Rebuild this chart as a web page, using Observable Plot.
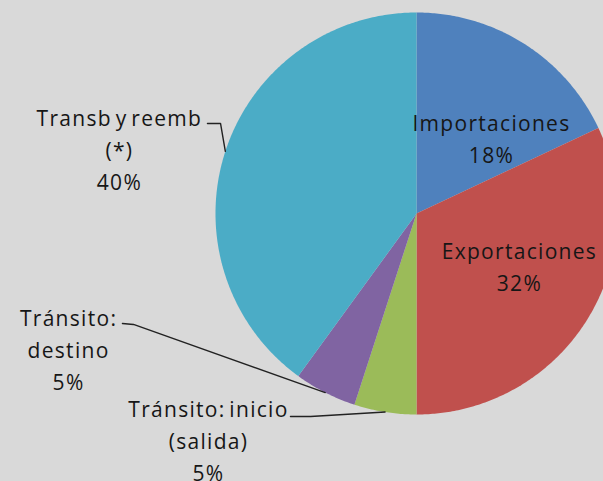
<!DOCTYPE html>
<html>
<head>
<meta charset="utf-8">
<script src="https://cdn.jsdelivr.net/npm/d3@7"></script>
<script src="https://cdn.jsdelivr.net/npm/@observablehq/plot@0.6"></script>
<style>
  html, body { margin: 0; padding: 0; background: #d9d9d9; }
  #chart { width: 603px; height: 481px; overflow: hidden; }
</style>
</head>
<body>
<div id="chart"></div>
<script>
// ---- data ----
const categories = ["Importaciones", "Exportaciones", "Tránsito: inicio (salida)", "Tránsito: destino", "Transb y reemb (*)"];
const values = [18, 32, 5, 5, 40];
const labelTexts = ["Importaciones", "Exportaciones", "Tránsito: inicio\n(salida)", "Tránsito:\ndestino", "Transb y reemb\n(*)"];
const colors = ["#4F81BD", "#C0504D", "#9BBB59", "#8064A2", "#4BACC6"];

// ---- layout (unit-circle coordinates, y up) ----
const W = 603, H = 481, CX = 416, CY = 213, R = 201;
const labelAt = [[0.373, 0.383], [0.512, -0.254], [-1.035, -1.119], [-1.731, -0.667], [-1.478, 0.328]];
// leader: [start, elbow] ; end is on the slice edge at mid-angle
const leaders = [null, null, [[-0.627, -1.010], [-0.527, -1.010]], [[-1.463, -0.547], [-1.408, -0.552]], [[-1.040, 0.448], [-0.975, 0.448]]];

const total = d3.sum(values);
let acc = 0;
const slices = values.map((v, i) => {
  const a0 = acc / total * 2 * Math.PI;
  acc += v;
  const a1 = acc / total * 2 * Math.PI;
  return {cat: categories[i], v, a0, a1, mid: (a0 + a1) / 2, i};
});

// slice outlines (geometry sampling of each arc)
const poly = [];
for (const s of slices) {
  poly.push({cat: s.cat, x: 0, y: 0});
  const n = Math.max(2, Math.ceil((s.a1 - s.a0) / 0.01));
  for (let k = 0; k <= n; k++) {
    const a = s.a0 + (s.a1 - s.a0) * k / n;
    poly.push({cat: s.cat, x: Math.sin(a), y: Math.cos(a)});
  }
  poly.push({cat: s.cat, x: 0, y: 0});
}

const labels = slices.map(s => ({
  cat: s.cat,
  text: labelTexts[s.i] + "\n" + Math.round(s.v / total * 100) + "%",
  x: labelAt[s.i][0],
  y: labelAt[s.i][1]
}));

const leaderPts = [];
slices.forEach(s => {
  const L = leaders[s.i];
  if (!L) return;
  leaderPts.push({cat: s.cat, x: L[0][0], y: L[0][1]});
  leaderPts.push({cat: s.cat, x: L[1][0], y: L[1][1]});
  leaderPts.push({cat: s.cat, x: Math.sin(s.mid), y: Math.cos(s.mid)});
});

const chart = Plot.plot({
  width: W,
  height: H,
  margin: 0,
  style: {background: "#d9d9d9", fontFamily: "'Open Sans', sans-serif", overflow: "hidden"},
  x: {domain: [-CX / R, (W - CX) / R], axis: null},
  y: {domain: [-(H - CY) / R, CY / R], axis: null},
  color: {domain: categories, range: colors},
  marks: [
    Plot.line(poly, {x: "x", y: "y", z: "cat", fill: "cat", stroke: null, curve: "linear"}),
    Plot.line(leaderPts, {x: "x", y: "y", z: "cat", stroke: "#222", strokeWidth: 1.4}),
    Plot.text(labels, {
      x: "x", y: "y", text: "text",
      fontSize: 21, lineHeight: 1.52, lineAnchor: "middle",
      fill: "#161616"
    })
  ]
});
chart.style.letterSpacing = "1.3px";
chart.style.wordSpacing = "-3px";
document.getElementById("chart").appendChild(chart);
</script>
</body>
</html>
